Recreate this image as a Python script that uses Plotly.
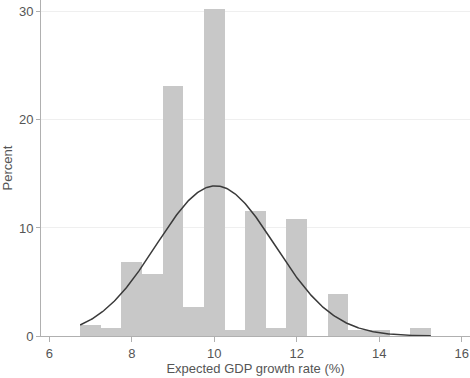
import numpy as np
import plotly.graph_objects as go

bin_centers = [7.0, 7.5, 8.0, 8.5, 9.0, 9.5, 10.0, 10.5, 11.0, 11.5, 12.0, 12.5, 13.0, 13.5, 14.0, 14.5, 15.0]
percent = [1.05, 0.78, 6.85, 5.78, 23.15, 2.69, 30.3, 0.53, 11.57, 0.78, 10.8, 0.0, 3.93, 0.53, 0.53, 0.0, 0.78]
bin_width = 0.5
mu = 10.03
sigma = 1.435
x_tick_vals = [6, 8, 10, 12, 14, 16]
y_tick_vals = [0, 10, 20, 30]

xs = np.linspace(6.75, 15.25, 300)
ys = 100 * bin_width / (sigma * np.sqrt(2 * np.pi)) * np.exp(-0.5 * ((xs - mu) / sigma) ** 2)

fig = go.Figure()
fig.add_trace(go.Bar(x=bin_centers, y=percent, width=bin_width,
                     marker=dict(color="#c8c8c8", line=dict(width=0)),
                     showlegend=False))
fig.add_trace(go.Scatter(x=xs, y=ys, mode="lines", line=dict(color="#3a3a3a", width=1.5),
                         showlegend=False))

font = dict(family="Liberation Sans, Arial, sans-serif", size=13, color="#555555")
fig.update_layout(
    width=470, height=378,
    margin=dict(l=41, r=0, t=0, b=42),
    plot_bgcolor="white", paper_bgcolor="white",
    bargap=0, font=font,
    xaxis=dict(range=[5.8, 16.2], tickvals=x_tick_vals, ticks="outside", ticklen=5,
               tickcolor="#b0b0b0", showline=True, linecolor="#b0b0b0", linewidth=1,
               showgrid=False, zeroline=False,
               title=dict(text="Expected GDP growth rate (%)", standoff=4, font=font)),
    yaxis=dict(range=[0, 31.1], tickvals=y_tick_vals, ticks="outside", ticklen=4,
               tickcolor="#b0b0b0", showline=True, linecolor="#b0b0b0", linewidth=1,
               showgrid=True, gridcolor="#efefef", zeroline=False,
               title=dict(text="Percent", standoff=4, font=font)),
)
fig.write_html("out.html", config={"displayModeBar": False},
               post_script="document.body.style.margin='0';document.body.style.overflow='hidden';")
